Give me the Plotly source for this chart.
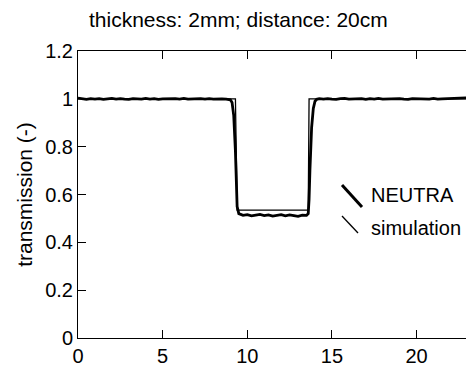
import plotly.graph_objects as go

# ---- data ----
neutra_x = [
    0.0, 0.25, 0.5, 0.75, 1.0, 1.25,
    1.5, 1.75, 2.0, 2.25, 2.5, 2.75,
    3.0, 3.25, 3.5, 3.75, 4.0, 4.25,
    4.5, 4.75, 5.0, 5.25, 5.5, 5.75,
    6.0, 6.25, 6.5, 6.75, 7.0, 7.25,
    7.5, 7.75, 8.0, 8.25, 8.5, 8.75,
    9.0, 9.1, 9.2, 9.3, 9.35, 9.4, 9.5,
    9.75, 10.0, 10.25, 10.5, 10.75, 11.0, 11.25, 11.5,
    11.75, 12.0, 12.25, 12.5, 12.75, 13.0, 13.25, 13.5,
    13.6, 13.65, 13.7, 13.8, 13.9, 14.0, 14.1,
    14.25, 14.5, 14.75, 15.0, 15.25, 15.5,
    15.75, 16.0, 16.25, 16.5, 16.75, 17.0,
    17.25, 17.5, 17.75, 18.0, 18.25, 18.5,
    18.75, 19.0, 19.25, 19.5, 19.75, 20.0,
    20.25, 20.5, 20.75, 21.0, 21.25, 21.5,
    21.75, 22.0, 22.25, 22.5, 22.75, 23.0,
]
neutra_y = [
    1.003, 0.999, 0.998, 1.001, 0.999, 1.001,
    0.998, 1.000, 1.002, 0.999, 1.001, 0.999,
    0.998, 1.001, 1.000, 0.999, 1.002, 0.999,
    1.001, 0.998, 1.000, 1.001, 0.999, 1.001,
    0.999, 1.002, 0.999, 1.000, 0.998, 1.001,
    0.999, 1.001, 0.999, 1.001, 1.000, 0.999,
    0.996, 0.985, 0.93, 0.78, 0.64, 0.55, 0.52,
    0.513, 0.516, 0.511, 0.514, 0.517, 0.512, 0.515, 0.510,
    0.513, 0.516, 0.511, 0.515, 0.512, 0.509, 0.514, 0.513,
    0.52, 0.58, 0.70, 0.88, 0.96, 0.99, 0.998,
    1.001, 0.999, 1.001, 0.999, 0.998, 1.001,
    1.002, 0.999, 1.000, 0.999, 1.001, 0.998,
    1.001, 0.999, 1.002, 0.999, 1.000, 1.001,
    0.999, 1.001, 0.999, 0.998, 1.001, 1.000,
    0.999, 1.001, 0.999, 1.002, 0.999, 1.000,
    1.001, 1.001, 1.003, 1.005, 1.003, 1.004,
]
sim_x = [0.0, 9.3, 9.4, 13.6, 13.65, 23.0]
sim_y = [1.0, 1.0, 0.535, 0.535, 1.0, 1.0]

x_ticks = [0, 5, 10, 15, 20]
y_ticks = [0, 0.2, 0.4, 0.6, 0.8, 1.0, 1.2]
y_tick_labels = ["0", "0.2", "0.4", "0.6", "0.8", "1", "1.2"]

title_text = "thickness: 2mm; distance: 20cm"
series_names = ["NEUTRA", "simulation"]

# ---- figure ----
FONT = "Liberation Sans, Arial, sans-serif"
W, H = 466, 371
L, R, T, B = 78, 0, 51, 33
pw, ph = W - L - R, H - T - B

def px(xp):
    return (xp - L) / pw

def py(yp):
    return (H - B - yp) / ph

fig = go.Figure()
fig.add_trace(go.Scatter(x=neutra_x, y=neutra_y, mode="lines", name=series_names[0],
                         line=dict(color="black", width=2.8), showlegend=False))
fig.add_trace(go.Scatter(x=sim_x, y=sim_y, mode="lines", name=series_names[1],
                         line=dict(color="black", width=1.3), showlegend=False))

axis_common = dict(ticks="inside", ticklen=8, tickcolor="black", tickwidth=1,
                   showgrid=False, zeroline=False, linecolor="black", linewidth=1,
                   tickfont=dict(family=FONT, size=20, color="black"))

fig.update_layout(
    width=W, height=H,
    margin=dict(l=L, r=R, t=T, b=B, pad=0),
    paper_bgcolor="white", plot_bgcolor="white",
    font=dict(family=FONT, color="black"),
    xaxis=dict(range=[0, 22.92], tickvals=x_ticks, showline=True, mirror="ticks",
               **axis_common),
    yaxis=dict(range=[0, 1.2], tickvals=y_ticks, ticktext=y_tick_labels, showline=True,
               mirror=False,
               title=dict(text="transmission (-)", font=dict(family=FONT, size=21, color="black"),
                          standoff=6),
               **axis_common),
    yaxis2=dict(range=[0, 1.2], tickvals=y_ticks, overlaying="y", side="right",
                showticklabels=False, showline=False, ticks="inside", ticklen=8,
                tickcolor="black", showgrid=False, zeroline=False),
    showlegend=False,
)

fig.add_annotation(text=title_text, xref="paper", yref="paper",
                   x=px(238.5), y=py(19), xanchor="center", yanchor="middle",
                   showarrow=False, font=dict(family=FONT, size=21, color="black"))

# legend texts with slanted sample marks
fig.add_annotation(text=series_names[0], xref="paper", yref="paper",
                   x=px(369), y=py(195), xanchor="left", yanchor="middle",
                   showarrow=False, font=dict(family=FONT, size=20, color="black"))
fig.add_annotation(text=series_names[1], xref="paper", yref="paper",
                   x=px(369), y=py(228), xanchor="left", yanchor="middle",
                   showarrow=False, font=dict(family=FONT, size=20, color="black"))
fig.add_shape(type="line", xref="paper", yref="paper",
              x0=px(342), y0=py(185), x1=px(362), y1=py(207),
              line=dict(color="black", width=3))
fig.add_shape(type="line", xref="paper", yref="paper",
              x0=px(342), y0=py(216), x1=px(358), y1=py(233),
              line=dict(color="black", width=1.3))

fig.write_html("out.html", config={"displayModeBar": False},
               post_script="document.body.style.margin='0';document.body.style.overflow='hidden';")
